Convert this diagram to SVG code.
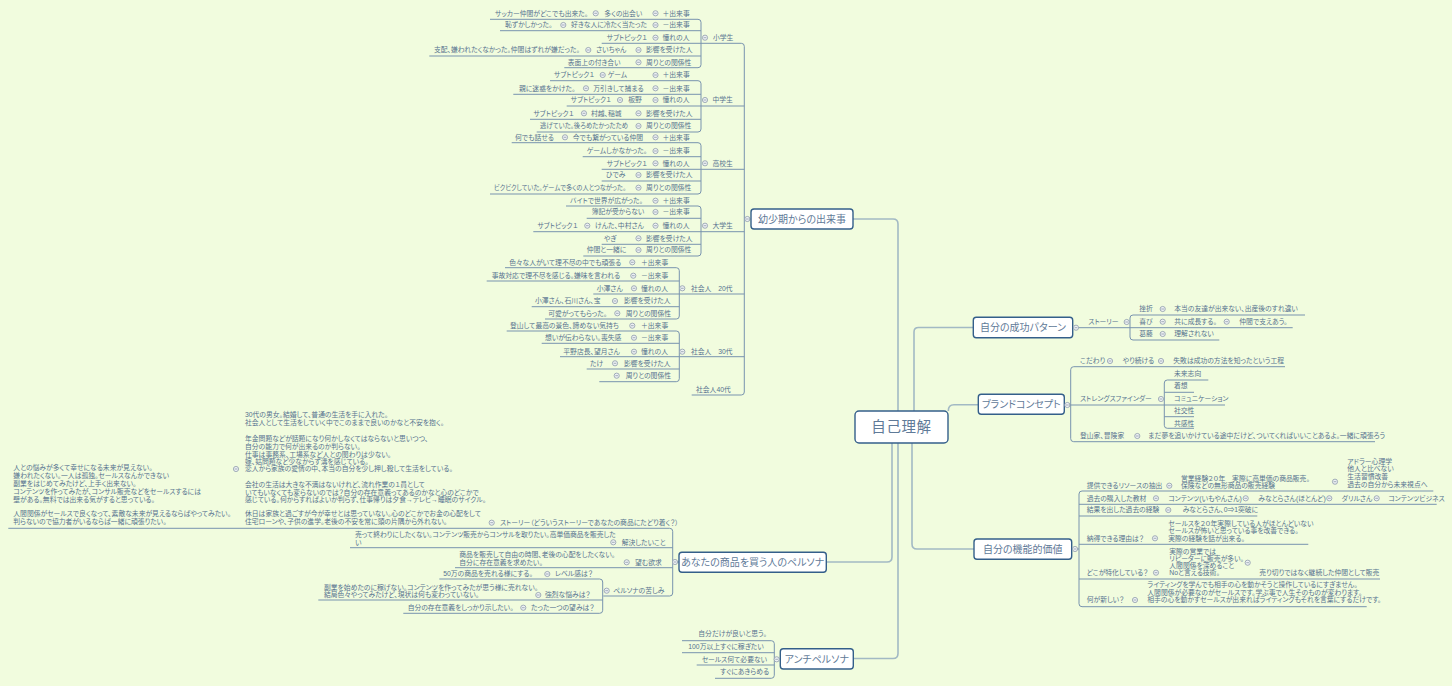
<svg xmlns="http://www.w3.org/2000/svg" xmlns:xlink="http://www.w3.org/1999/xlink" width="1452" height="686" viewBox="0 0 1452 686">
<style>
text{font-family:"Liberation Sans","Noto Sans CJK JP",sans-serif;font-size:6.8px;fill:#56728f;font-feature-settings:"palt"}
.nt{font-size:10px;fill:#5f7a98;text-anchor:middle}
.ct{font-size:14.5px;fill:#5f7a98;text-anchor:middle;letter-spacing:0.6px}
.box{fill:#ffffff;stroke:#345f8a;stroke-width:1.4}
.ln{fill:none;stroke:#7893ae;stroke-width:1}
.mc{fill:none;stroke:#a2b9c4;stroke-width:1.6}
</style>
<defs>
<g id="m"><circle r="2.6" fill="#eef1f4" stroke="#8e9cab" stroke-width="0.8"/><path d="M-1.4,0H1.4" stroke="#8e9cab" stroke-width="0.8"/></g>
</defs>
<rect width="1452" height="686" fill="#f1fcde"/>

<g id="connectors">
<path class="mc" d="M853,219 H893 Q898,219 898,224 V411"/>
<path class="mc" d="M914,411 V332 Q914,327.5 918.5,327.5 H973.3"/>
<path class="mc" d="M948.3,411 Q948.3,404.8 954,404.8 H978.3"/>
<path class="mc" d="M912,443 V544 Q912,549 917,549 H974"/>
<path class="mc" d="M892,443 V557 Q892,562 887,562 H826.3"/>
<path class="mc" d="M898,443 V653.5 Q898,658.5 893,658.5 H853.3"/>
<path class="ln" d="M701,43.3 H741.3 Q744.3,43.3 744.3,46.3 V392 Q744.3,395 741.3,395 H691.7"/>
<path class="ln" d="M701,106 H744.3 M701,169.3 H744.3 M701,231.7 H744.3 M679.3,294 H744.3 M679.3,356.7 H744.3 M744.3,219 H751"/>
<path class="ln" d="M490,19.3 H698 Q701,19.3 701,22.3 V64.7 Q701,67.7 698,67.7 H564.3 M500,30.7 H701 M601.7,43.3 H701 M429.3,56 H701"/>
<path class="ln" d="M550,80.7 H698 Q701,80.7 701,83.7 V129 Q701,132 698,132 H536.7 M513.3,94.3 H701 M566.7,106 H701 M530,119.3 H701"/>
<path class="ln" d="M511.7,142.7 H698 Q701,142.7 701,145.7 V191 Q701,194 698,194 H490 M582.7,156.7 H701 M601.7,169.3 H701 M601.7,181 H701"/>
<path class="ln" d="M566,206 H698 Q701,206 701,209 V253 Q701,256 698,256 H583.3 M586.7,218.3 H701 M533.3,231.7 H701 M601.7,244.3 H701"/>
<path class="ln" d="M505,267.7 H676.3 Q679.3,267.7 679.3,270.7 V316 Q679.3,319 676.3,319 H545 M486.7,281 H679.3 M593.3,294 H679.3 M531.7,306.7 H679.3"/>
<path class="ln" d="M506.7,331 H676.3 Q679.3,331 679.3,334 V378.7 Q679.3,381.7 676.3,381.7 H599.3 M541.7,343.3 H679.3 M560,356.7 H679.3 M586.7,369 H679.3"/>
<path class="ln" d="M1072.7,327.7 H1292.7"/>
<path class="ln" d="M1305,315 H1133 Q1130,315 1130,318 V337 Q1130,340 1133,340 H1219.3"/>
<path class="ln" d="M1064.3,405 H1225"/>
<path class="ln" d="M1285,366.7 H1073.7 Q1070.7,366.7 1070.7,369.7 V438.7 Q1070.7,441.7 1073.7,441.7 H1375"/>
<path class="ln" d="M1208.3,380 H1167.3 Q1164.3,380 1164.3,383 V425.3 Q1164.3,428.3 1167.3,428.3 H1194 M1164.3,392.3 H1194 M1164.3,416.7 H1194"/>
<path class="ln" d="M1071.7,549 H1079"/>
<path class="ln" d="M1433.3,491 H1082 Q1079,491 1079,494 V603.7 Q1079,606.7 1082,606.7 H1366.7 M1079,504.3 H1436.7 M1079,516 H1257.3 M1079,544.3 H1308.3 M1079,579 H1380"/>
<path class="ln" d="M8.3,528.3 H669.7 Q672.7,528.3 672.7,531.3 V593 Q672.7,596 669.7,596 H603.3 M350,547.7 H672.7 M455,567.7 H672.7 M672.7,562 H679"/>
<path class="ln" d="M439.3,579 H599.7 Q602.7,579 602.7,582 V610.3 Q602.7,613.3 599.7,613.3 H403.3 M318.3,600 H602.7"/>
<path class="ln" d="M682,640.7 H771.3 Q774.3,640.7 774.3,643.7 V675.3 Q774.3,678.3 771.3,678.3 H715 M682,652.7 H774.3 M696.7,665 H774.3 M774.3,659 H780.3"/>
</g>

<g id="n-center">
<rect class="box" x="855" y="411" width="93" height="32" rx="4"/>
<text class="ct" x="901.5" y="432.3">自己理解</text>
</g>

<g id="n-youshouki">
<rect class="box" x="751" y="209" width="102" height="20" rx="3"/>
<text class="nt" x="802" y="222.6">幼少期からの出来事</text>
<use href="#m" x="747.3" y="219"/>
</g>

<g id="n-shougakusei">
<text x="713" y="40.1">小学生</text><use href="#m" x="705" y="37.7"/>
<text x="495" y="15.7">サッカー仲間がどこでも出来た。</text><use href="#m" x="595.7" y="13.3"/><text x="604.3" y="15.7">多くの出会い</text><use href="#m" x="655.5" y="13.3"/><text x="662.5" y="15.7">＋出来事</text>
<text x="505" y="27.4">恥ずかしかった。</text><use href="#m" x="563.3" y="25"/><text x="571" y="27.4">好きな人に冷たく当たった</text><use href="#m" x="655.5" y="25"/><text x="662.5" y="27.4">－出来事</text>
<text x="606.7" y="40.1">サブトピック１</text><use href="#m" x="655.5" y="37.7"/><text x="662.5" y="40.1">憧れの人</text>
<text x="434" y="52.4">支配、嫌われたくなかった。仲間はずれが嫌だった。</text><use href="#m" x="588.3" y="50"/><text x="596" y="52.4">さいちゃん</text><use href="#m" x="638.5" y="50"/><text x="646" y="52.4">影響を受けた人</text>
<text x="567.7" y="64.7">表面上の付き合い</text><use href="#m" x="638.5" y="62.3"/><text x="646" y="64.7">周りとの関係性</text>
</g>

<g id="n-chuugakusei">
<text x="712.5" y="102.4">中学生</text><use href="#m" x="705" y="100"/>
<text x="554" y="77.4">サブトピック１</text><use href="#m" x="602.7" y="75"/><text x="607.7" y="77.4">ゲーム</text><use href="#m" x="655.5" y="75"/><text x="662.5" y="77.4">＋出来事</text>
<text x="519" y="90.7">親に迷惑をかけた。</text><use href="#m" x="586" y="88.3"/><text x="593.3" y="90.7">万引きして捕まる</text><use href="#m" x="655.5" y="88.3"/><text x="662.5" y="90.7">－出来事</text>
<text x="570.7" y="102.4">サブトピック１</text><use href="#m" x="620" y="100"/><text x="628.3" y="102.4">板野</text><use href="#m" x="655.5" y="100"/><text x="662.5" y="102.4">憧れの人</text>
<text x="533.3" y="115.7">サブトピック１</text><use href="#m" x="584" y="113.3"/><text x="591" y="115.7">村越、稲城</text><use href="#m" x="638.5" y="113.3"/><text x="646" y="115.7">影響を受けた人</text>
<text x="540" y="128.4" textLength="88" lengthAdjust="spacingAndGlyphs">逃げていた。後ろめたかったため</text><use href="#m" x="638.5" y="126"/><text x="646" y="128.4">周りとの関係性</text>
</g>

<g id="n-koukousei">
<text x="712.5" y="165.7">高校生</text><use href="#m" x="705" y="163.3"/>
<text x="515" y="139.7">何でも話せる</text><use href="#m" x="565" y="137.3"/><text x="572.7" y="139.7">今でも繋がっている仲間</text><use href="#m" x="655.5" y="137.3"/><text x="662.5" y="139.7">＋出来事</text>
<text x="586.7" y="153.4">ゲームしかなかった。</text><use href="#m" x="655.5" y="151"/><text x="662.5" y="153.4">－出来事</text>
<text x="606.7" y="165.7">サブトピック１</text><use href="#m" x="655.5" y="163.3"/><text x="662.5" y="165.7">憧れの人</text>
<text x="606" y="177.4">ひでみ</text><use href="#m" x="638.5" y="175"/><text x="646" y="177.4">影響を受けた人</text>
<text x="494" y="190.1" textLength="132" lengthAdjust="spacingAndGlyphs">ビクビクしていた。ゲームで多くの人とつながった。</text><use href="#m" x="638.5" y="187.7"/><text x="646" y="190.1">周りとの関係性</text>
</g>

<g id="n-daigakusei">
<text x="712.5" y="228.1">大学生</text><use href="#m" x="705" y="225.7"/>
<text x="570" y="203.1">バイトで世界が広がった。</text><use href="#m" x="655.5" y="200.7"/><text x="662.5" y="203.1">＋出来事</text>
<text x="591.7" y="214.4">簿記が受からない</text><use href="#m" x="655.5" y="212"/><text x="662.5" y="214.4">－出来事</text>
<text x="537.3" y="228.1">サブトピック１</text><use href="#m" x="587.3" y="225.7"/><text x="595" y="228.1">けんた、中村さん</text><use href="#m" x="655.5" y="225.7"/><text x="662.5" y="228.1">憧れの人</text>
<text x="604" y="240.7">やぎ</text><use href="#m" x="638.5" y="238.3"/><text x="646" y="240.7">影響を受けた人</text>
<text x="586.7" y="252.4">仲間と一緒に</text><use href="#m" x="638.5" y="250"/><text x="646" y="252.4">周りとの関係性</text>
</g>

<g id="n-shakaijin20">
<text x="691" y="290.7">社会人　20代</text><use href="#m" x="682.3" y="288.3"/>
<text x="509.3" y="264.7">色々な人がいて理不尽の中でも頑張る</text><use href="#m" x="632.3" y="262.3"/><text x="641" y="264.7">＋出来事</text>
<text x="491.7" y="278.1">事故対応で理不尽を感じる。嫌味を言われる</text><use href="#m" x="633.3" y="275.7"/><text x="641" y="278.1">－出来事</text>
<text x="596.7" y="290.7">小澤さん</text><use href="#m" x="634" y="288.3"/><text x="641" y="290.7">憧れの人</text>
<text x="535" y="303.4">小澤さん、石川さん、宝</text><use href="#m" x="615" y="301"/><text x="624" y="303.4">影響を受けた人</text>
<text x="548.3" y="315.7">可愛がってもらった。</text><use href="#m" x="617.3" y="313.3"/><text x="625.7" y="315.7">周りとの関係性</text>
</g>

<g id="n-shakaijin30">
<text x="691" y="354.1">社会人　30代</text><use href="#m" x="682.3" y="351.7"/>
<text x="510" y="328.1">登山して最高の景色、諦めない気持ち</text><use href="#m" x="632.3" y="325.7"/><text x="641" y="328.1">＋出来事</text>
<text x="545" y="340.1">想いが伝わらない。喪失感</text><use href="#m" x="634" y="337.7"/><text x="641" y="340.1">－出来事</text>
<text x="563.3" y="354.1">平野店長、望月さん</text><use href="#m" x="634" y="351.7"/><text x="641" y="354.1">憧れの人</text>
<text x="590" y="365.7">たけ</text><use href="#m" x="615" y="363.3"/><text x="624" y="365.7">影響を受けた人</text>
<use href="#m" x="616.7" y="375.7"/><text x="625.7" y="378.1">周りとの関係性</text>
</g>

<g id="n-shakaijin40">
<text x="696" y="391.7">社会人40代</text>
</g>

<g id="n-seikou">
<rect class="box" x="973.3" y="317.3" width="99.4" height="20.4" rx="3"/>
<text class="nt" x="1023" y="331">自分の成功パターン</text>
<use href="#m" x="1076" y="327.7"/>
<text x="1088.3" y="324.1">ストーリー</text><use href="#m" x="1126.7" y="322"/>
<text x="1139.3" y="311.4">挫折</text><use href="#m" x="1162.7" y="309"/><text x="1174.3" y="311.4">本当の友達が出来ない、出産後のすれ違い</text>
<text x="1139.3" y="324.1">喜び</text><use href="#m" x="1162.7" y="321.7"/><text x="1174.3" y="324.1">共に成長する。</text><use href="#m" x="1226.7" y="321.7"/><text x="1239.3" y="324.1">仲間で支えあう。</text>
<text x="1139.3" y="336.4">葛藤</text><use href="#m" x="1162.7" y="334"/><text x="1174.3" y="336.4">理解されない</text>
</g>

<g id="n-brand">
<rect class="box" x="978.3" y="394.3" width="86" height="20" rx="3"/>
<text class="nt" x="1021.3" y="408">ブランドコンセプト</text>
<use href="#m" x="1067.3" y="405"/>
<text x="1080" y="363.4">こだわり</text><use href="#m" x="1110" y="361"/><text x="1122.7" y="363.4">やり続ける</text><use href="#m" x="1161" y="361"/><text x="1173.3" y="363.4">失敗は成功の方法を知ったという工程</text>
<text x="1080" y="401.4">ストレングスファインダー</text><use href="#m" x="1161" y="399"/>
<text x="1174" y="376.4">未来志向</text>
<text x="1174" y="388.4">着想</text>
<text x="1174" y="401.4">コミュニケーション</text>
<text x="1174" y="413.4">社交性</text>
<text x="1174" y="425.7">共感性</text>
<text x="1080" y="438.4">登山家、冒険家</text><use href="#m" x="1137.3" y="436"/><text x="1148.3" y="438.4">まだ夢を追いかけている途中だけど、ついてくればいいことあるよ。一緒に頑張ろう</text>
</g>

<g id="n-kinou">
<rect class="box" x="974" y="539" width="97.7" height="20.3" rx="3"/>
<text class="nt" x="1022.8" y="552.8">自分の機能的価値</text>
<use href="#m" x="1075" y="549"/>
<text x="1086.7" y="488.1">提供できるリソースの抽出</text><use href="#m" x="1169.3" y="485.7"/>
<text x="1181" y="480.7">営業経験２０年　実際に高単価の商品販売。</text>
<text x="1181" y="488.1">保険などの無形商品の販売経験</text>
<use href="#m" x="1335" y="481.7"/>
<text x="1347.3" y="464.1">アドラー心理学</text>
<text x="1347.3" y="471.4">他人と比べない</text>
<text x="1347.3" y="479.1">生活習慣改善</text>
<text x="1347.3" y="487.4">過去の自分から未来視点へ</text>
<text x="1086.7" y="500.7">過去の購入した教材</text><use href="#m" x="1156" y="498.3"/><text x="1168.3" y="500.7">コンテンツ(いもやんさん)</text><use href="#m" x="1245.7" y="498.3"/><text x="1258.3" y="500.7">みなとらさん(ほとんど)</text><use href="#m" x="1329.3" y="498.3"/><text x="1341.7" y="500.7">ダリルさん</text><use href="#m" x="1376.7" y="498.3"/><text x="1388.3" y="500.7">コンテンツビジネス</text>
<text x="1086.7" y="512.4">結果を出した過去の経験</text><use href="#m" x="1168.3" y="510"/><text x="1182.7" y="512.4">みなとらさん、0⇒1突破に</text>
<text x="1086.7" y="540.7">納得できる理由は？</text><use href="#m" x="1155" y="538.3"/>
<text x="1168.3" y="525.7">セールスを２０年実際している人がほとんどいない</text>
<text x="1168.3" y="533.4">セールスが怖いと思っている事を改善できる。</text>
<text x="1168.3" y="540.7">実際の経験を話が出来る。</text>
<text x="1086.7" y="575.1">どこが特化している？</text><use href="#m" x="1156" y="572.7"/>
<text x="1169.3" y="554.1">実際の営業では</text>
<text x="1169.3" y="561.1">リピーターに販売が多い。</text>
<text x="1169.3" y="568.1">人間関係を深めること</text>
<text x="1169.3" y="575.1">Noと言える技術。</text>
<use href="#m" x="1247.7" y="562.7"/><text x="1259.3" y="575.1">売り切りではなく継続した仲間として販売</text>
<text x="1086.7" y="602.4">何が新しい？</text><use href="#m" x="1135" y="600"/>
<text x="1147.3" y="587">ライティングを学んでも相手の心を動かそうと操作しているにすぎません。</text>
<text x="1147.3" y="594.7">人間関係が必要なのがセールスです。学ぶ事で人生そのものが変わります。</text>
<text x="1147.3" y="602.4">相手の心を動かすセールスが出来ればライティングもそれを言葉にするだけです。</text>
</g>

<g id="n-persona">
<rect class="box" x="679" y="552.3" width="147.3" height="20" rx="3"/>
<text class="nt" x="752.7" y="566">あなたの商品を買う人のペルソナ</text>
<use href="#m" x="675" y="562"/>
<use href="#m" x="491.7" y="522.7"/><text x="500" y="525.1">ストーリー（どういうストーリーであなたの商品にたどり着く？）</text>
<use href="#m" x="236" y="469"/>
<text x="245" y="417.4">30代の男女。結婚して、普通の生活を手に入れた。</text>
<text x="245" y="425.4">社会人として生活をしていく中でこのままで良いのかなと不安を抱く。</text>
<text x="245" y="441.4">年金問題などが話題になり何かしなくてはならないと思いつつ、</text>
<text x="245" y="449.1">自分の能力で何が出来るのか判らない。</text>
<text x="245" y="456.7">仕事は事務系、工場系など人との関わりは少ない。</text>
<text x="245" y="464.1">嫁、姑問題など少なからず溝を感じている。</text>
<text x="245" y="471.1">恋人から家族の愛情の中、本当の自分を少し押し殺して生活をしている。</text>
<text x="245" y="486.7">会社の生活は大きな不満はないけれど、流れ作業の１員として</text>
<text x="245" y="494.7">いてもいなくても変らないのでは？自分の存在意義ってあるのかなと心のどこかで</text>
<text x="245" y="502.4">感じている。何からすればよいか判らず、仕事帰りは夕食→テレビ→睡眠のサイクル。</text>
<text x="245" y="516.4">休日は家族と過ごすが今が幸せとは思っていない。心のどこかでお金の心配をして</text>
<text x="245" y="524.4">住宅ローンや、子供の進学。老後の不安を常に頭の片隅から外れない。</text>
<text x="13.3" y="470.1">人との悩みが多くて幸せになる未来が見えない。</text>
<text x="13.3" y="478.1">嫌われたくない。一人は孤独。セールスなんかできない</text>
<text x="13.3" y="486.1">副業をはじめてみたけど、上手く出来ない。</text>
<text x="13.3" y="494.1">コンテンツを作ってみたが、コンサル販売などをセールスするには</text>
<text x="13.3" y="502.1">壁がある。無料では出来る気がすると思っている。</text>
<text x="13.3" y="516.4">人間関係がセールスで良くなって、素敵な未来が見えるならばやってみたい。</text>
<text x="13.3" y="524.1">判らないので協力者がいるならば一緒に頑張りたい。</text>
<use href="#m" x="613.3" y="542.3"/><text x="621.7" y="544.7">解決したいこと</text>
<text x="355" y="537.4">売って終わりにしたくない。コンテンツ販売からコンサルを取りたい。高単価商品を販売した</text>
<text x="355" y="544.7">い</text>
<use href="#m" x="626.7" y="562.3"/><text x="635" y="564.7">望む欲求</text>
<text x="459.3" y="556.7">商品を販売して自由の時間、老後の心配をしたくない。</text>
<text x="459.3" y="564.7">自分に存在意義を求めたい。</text>
<use href="#m" x="606.7" y="590.7"/><text x="613.3" y="593.1">ペルソナの苦しみ</text>
<text x="443.3" y="576.4">50万の商品を売れる様にする。</text><use href="#m" x="547.3" y="574"/><text x="555" y="576.4">レベル感は？</text>
<text x="324" y="589.7">副業を始めたのに稼げない。コンテンツを作ってみたが思う様に売れない。</text>
<text x="324" y="596.7">結局色々やってみたけど、現状は何も変わっていない。</text>
<use href="#m" x="538.3" y="595"/><text x="545" y="597.4">強烈な悩みは？</text>
<text x="407.7" y="610.1">自分の存在意義をしっかり示したい。</text><use href="#m" x="523.3" y="607.7"/><text x="531" y="610.1">たった一つの望みは？</text>
</g>

<g id="n-anti">
<rect class="box" x="780.3" y="648.7" width="73" height="20.3" rx="3"/>
<text class="nt" x="816.8" y="662.5">アンチペルソナ</text>
<use href="#m" x="776.7" y="659.3"/>
<text x="698.3" y="636.4">自分だけが良いと思う。</text>
<text x="688.3" y="649.1">100万以上すぐに稼ぎたい</text>
<text x="701.7" y="661.7">セールス何て必要ない</text>
<text x="720" y="674.1">すぐにあきらめる</text>
</g>
</svg>
